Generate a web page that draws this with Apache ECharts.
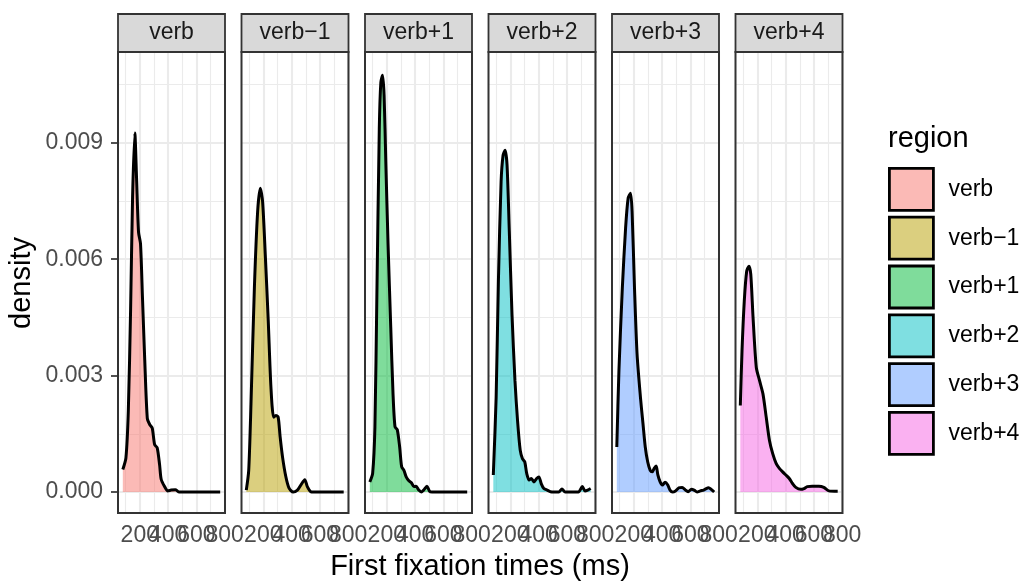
<!DOCTYPE html>
<html>
<head>
<meta charset="utf-8">
<script src="https://cdn.jsdelivr.net/npm/echarts@6/dist/echarts.min.js"></script>
<style>html,body{margin:0;padding:0;background:#fff;}#chart{width:1026px;height:585px;}</style>
</head>
<body>
<div id="chart"></div>
<script>
// ---- data ----
const regions = ['verb', 'verb\u22121', 'verb+1', 'verb+2', 'verb+3', 'verb+4'];
const xTicks = [200, 400, 600, 800];
const xLabelsA = [200, 600];   // split in two sets so ECharts does not drop overlapping labels
const xLabelsB = [400, 800];
const xMinor = [100, 300, 500, 700];
const yTicks = [0, 0.003, 0.006, 0.009];
const yMinor = [0.0015, 0.0045, 0.0075, 0.0105];

const verbDensity = [[80,0.00058],[102,0.00088],[119,0.0021],[135,0.0047],[149,0.0076],[165,0.00925],[177,0.0081],[191,0.0067],[205,0.0064],[219,0.0050],[235,0.0034],[253,0.0019],[270,0.00174],[288,0.00165],[305,0.00122],[323,0.00114],[340,0.0007],[351,0.00033],[374,0.00015],[398,0.00003],[421,0.00005],[451,0.00006],[479,0],[768,0]];
const verbMinus1Density = [[80,0.00005],[97,0.00056],[113,0.00227],[137,0.00526],[160,0.00723],[179,0.00783],[195,0.00749],[214,0.00612],[235,0.00441],[254,0.0027],[273,0.00193],[289,0.00197],[305,0.00193],[319,0.00142],[336,0.0009],[359,0.0004],[382,0.0001],[411,0],[441,0.00005],[465,0.00018],[493,0.00032],[511,0.00014],[535,0.00001],[558,0],[768,0]];
const verbPlus1Density = [[80,0.00026],[100,0.00048],[116,0.00168],[130,0.0051],[147,0.00937],[158,0.01056],[170,0.01074],[181,0.01022],[193,0.00851],[209,0.00638],[228,0.00424],[244,0.00253],[258,0.00168],[274,0.00161],[291,0.00116],[305,0.00065],[321,0.00056],[337,0.00039],[356,0.00029],[374,0.00024],[391,0.00014],[407,0.00015],[426,0.00005],[444,0],[460,0.00005],[484,0.00015],[502,0.00002],[519,0],[768,0]];
const verbPlus2Density = [[80,0.00044],[100,0.00244],[116,0.00544],[135,0.008],[149,0.00868],[163,0.00881],[177,0.00843],[193,0.00672],[212,0.00458],[233,0.00287],[251,0.00185],[270,0.00108],[286,0.00086],[302,0.00078],[316,0.00048],[333,0.00031],[349,0.00035],[367,0.00026],[386,0.00035],[402,0.00039],[419,0.00021],[437,0.00009],[461,0.00005],[484,0.00001],[542,0],[565,0.00008],[588,0],[681,0],[709,0.00014],[728,0.00003],[747,0.00005],[768,0.00009]];
const verbPlus3Density = [[80,0.00116],[95,0.00313],[119,0.00526],[142,0.0068],[160,0.00757],[177,0.0077],[188,0.00723],[205,0.00526],[223,0.00356],[247,0.00244],[265,0.00176],[281,0.00116],[298,0.00078],[316,0.00056],[330,0.00052],[344,0.00061],[358,0.00067],[370,0.00044],[386,0.00026],[402,0.00018],[421,0.00025],[440,0.00018],[456,0.00005],[474,0],[495,0.00003],[519,0.00011],[542,0.00012],[565,0.00005],[584,0.00001],[607,0.00007],[626,0.00005],[647,0],[670,0.00003],[693,0.00005],[712,0.00009],[728,0.00011],[747,0.00007],[768,0]];
const verbPlus4Density = [[80,0.00223],[92,0.00364],[108,0.00492],[125,0.00569],[141,0.00582],[154,0.00561],[170,0.0045],[193,0.00321],[216,0.00287],[240,0.00253],[263,0.00193],[286,0.00133],[309,0.00099],[333,0.00074],[356,0.00061],[379,0.00052],[402,0.00044],[426,0.00035],[449,0.00022],[472,0.00012],[507,0.00007],[530,0.00009],[553,0.00014],[588,0.00015],[635,0.00015],[670,0.00012],[705,0.00003],[768,0.00002]];

const densities = [verbDensity, verbMinus1Density, verbPlus1Density, verbPlus2Density, verbPlus3Density, verbPlus4Density];
const fills = ['rgba(248,118,109,0.5)', 'rgba(183,159,0,0.5)', 'rgba(0,186,56,0.5)', 'rgba(0,191,196,0.5)', 'rgba(97,156,255,0.5)', 'rgba(245,100,227,0.5)'];

// ---- layout ----
const FONT = '"Liberation Sans", Arial, Helvetica, sans-serif';
const panelLefts = [118, 241.5, 365, 488.5, 612, 735.5];
const PW = 107, PT = 52, PH = 461;
const X_MIN = 46, X_MAX = 802, Y_MIN = -0.00054, Y_MAX = 0.01134;

function gridSegments(xs, ys) {
  const segs = [];
  xs.forEach(v => segs.push({ coords: [[v, Y_MIN], [v, Y_MAX]] }));
  ys.forEach(v => segs.push({ coords: [[X_MIN, v], [X_MAX, v]] }));
  return segs;
}

const labelStyle = { fontSize: 23, color: '#4D4D4D', margin: 11, fontFamily: FONT, showMinLabel: true, showMaxLabel: true, hideOverlap: false };
const grids = [], xAxes = [], xAxesExtra = [], yAxes = [], series = [], graphics = [];
panelLefts.forEach((L, i) => {
  grids.push({ left: L, top: PT, width: PW, height: PH, show: false, containLabel: false });
  xAxes.push({
    type: 'value', gridIndex: i, min: X_MIN, max: X_MAX, position: 'bottom', offset: 0,
    axisLine: { show: false },
    axisTick: { show: true, length: 7, lineStyle: { color: '#333333', width: 1.7 }, customValues: xTicks },
    axisLabel: Object.assign({ show: true, customValues: xLabelsA }, labelStyle),
    splitLine: { show: false }
  });
  xAxesExtra.push({
    type: 'value', gridIndex: i, min: X_MIN, max: X_MAX, position: 'bottom', offset: 0,
    axisLine: { show: false },
    axisTick: { show: false, customValues: xLabelsB },
    axisLabel: Object.assign({ show: true, customValues: xLabelsB }, labelStyle),
    splitLine: { show: false }
  });
  yAxes.push({
    type: 'value', gridIndex: i, min: Y_MIN, max: Y_MAX,
    axisLine: { show: false },
    axisTick: { show: i === 0, length: 7, lineStyle: { color: '#333333', width: 1.7 }, customValues: yTicks },
    axisLabel: { show: i === 0, customValues: yTicks, showMinLabel: true, showMaxLabel: true,
      fontSize: 23, color: '#4D4D4D', margin: 15, fontFamily: FONT, formatter: v => v.toFixed(3) },
    splitLine: { show: false }
  });
  series.push({
    type: 'lines', coordinateSystem: 'cartesian2d', xAxisIndex: i, yAxisIndex: i, z: 1, silent: true,
    polyline: false, lineStyle: { color: '#EBEBEB', width: 1.1, opacity: 1, curveness: 0 },
    data: gridSegments(xMinor, yMinor)
  });
  series.push({
    type: 'lines', coordinateSystem: 'cartesian2d', xAxisIndex: i, yAxisIndex: i, z: 1, silent: true,
    polyline: false, lineStyle: { color: '#EBEBEB', width: 2.1, opacity: 1, curveness: 0 },
    data: gridSegments(xTicks, yTicks)
  });
  series.push({
    type: 'line', name: regions[i], xAxisIndex: i, yAxisIndex: i, data: densities[i], z: 3,
    showSymbol: false, symbol: 'none', smooth: 0.25, silent: true,
    itemStyle: { color: fills[i] },
    lineStyle: { color: '#000000', width: 3 },
    areaStyle: { color: fills[i], opacity: 1 }
  });
  // strip
  graphics.push({ type: 'rect', shape: { x: L, y: 14, width: PW, height: 38 },
    style: { fill: '#D9D9D9', stroke: '#333333', lineWidth: 1.8 }, z: 100 });
  graphics.push({ type: 'text', x: L + PW / 2, y: 33, z: 101,
    style: { text: regions[i], fill: '#1A1A1A', font: '23px ' + FONT, textAlign: 'center', textVerticalAlign: 'middle', align: 'center', verticalAlign: 'middle' } });
  // panel border
  graphics.push({ type: 'rect', shape: { x: L, y: PT, width: PW, height: PH },
    style: { fill: null, stroke: '#333333', lineWidth: 2 }, z: 100 });
});

graphics.push({ type: 'text', x: 480, y: 567, z: 101,
  style: { text: 'First fixation times (ms)', fill: '#000', font: '29px ' + FONT, textAlign: 'center', textVerticalAlign: 'middle', align: 'center', verticalAlign: 'middle' } });
graphics.push({ type: 'text', x: 22, y: 283, rotation: Math.PI / 2, z: 101,
  style: { text: 'density', fill: '#000', font: '29px ' + FONT, textAlign: 'center', textVerticalAlign: 'middle', align: 'center', verticalAlign: 'middle' } });
graphics.push({ type: 'text', x: 888, y: 139, z: 101,
  style: { text: 'region', fill: '#000', font: '29px ' + FONT, textAlign: 'left', textVerticalAlign: 'middle', align: 'left', verticalAlign: 'middle' } });

const chart = echarts.init(document.getElementById('chart'), null, { renderer: 'canvas' });
chart.setOption({
  animation: false,
  backgroundColor: '#ffffff',
  grid: grids, xAxis: xAxes.concat(xAxesExtra), yAxis: yAxes, series: series,
  legend: {
    orient: 'vertical', left: 888, top: 167, padding: 0, itemWidth: 44, itemHeight: 42, itemGap: 4,
    icon: 'rect', selectedMode: false,
    textStyle: { fontSize: 23, color: '#000', fontFamily: FONT, padding: [0, 0, 0, 10] },
    data: regions.map((n, i) => ({ name: n, icon: 'rect', itemStyle: { color: fills[i], borderColor: '#000', borderWidth: 2.8 } }))
  },
  graphic: graphics
});
</script>
</body>
</html>
